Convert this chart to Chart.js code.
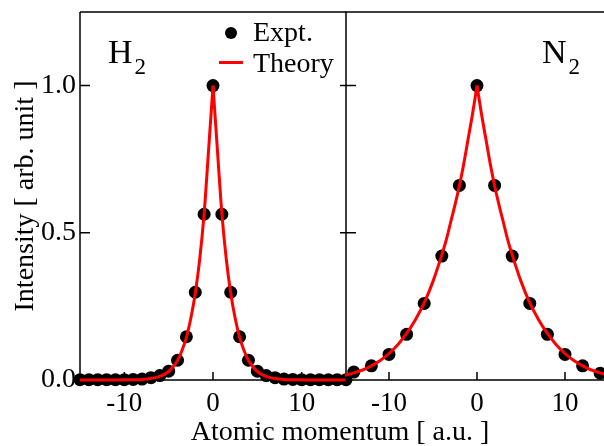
<!DOCTYPE html>
<html>
<head>
<meta charset="utf-8">
<script src="https://cdn.jsdelivr.net/npm/chart.js@4.4.1/dist/chart.umd.min.js"></script>
<style>
  html, body { margin: 0; padding: 0; background: #fff; overflow: hidden; }
  #wrap { position: relative; width: 604px; height: 446px; overflow: hidden; }
  canvas { position: absolute; top: 0; }
  #left { left: 0; }
  #right { left: 345px; }
  .lbl { position: absolute; font-family: "Liberation Serif", "Times New Roman", serif; line-height: 1; white-space: nowrap; color: #000; }
  .big { font-size: 34px; }
  .sub { font-size: 23px; position: relative; top: 11px; margin-left: 2px; }
  .leg { font-size: 28px; }
</style>
</head>
<body>
<div id="wrap">
  <canvas id="left" width="362" height="446"></canvas>
  <canvas id="right" width="264" height="446"></canvas>

  <div class="lbl big" style="left:108px; top:35px;">H<span class="sub">2</span></div>
  <div class="lbl big" style="left:542px; top:35px;">N<span class="sub">2</span></div>

  <div style="position:absolute; left:225px; top:27px; width:12px; height:12px; border-radius:50%; background:#000;"></div>
  <div class="lbl leg" style="left:253px; top:18px;">Expt.</div>
  <div style="position:absolute; left:219px; top:61px; width:24px; height:3px; background:#ff0000;"></div>
  <div class="lbl leg" style="left:253px; top:49px;">Theory</div>

  <div class="lbl leg" style="left:340px; top:417px; transform:translateX(-50%);">Atomic momentum [ a.u. ]</div>
</div>

<script>
// measured points
const expH2X = [-15, -14, -13, -12, -11, -10, -9, -8, -7, -6, -5, -4, -3, -2, -1, 0,
                1, 2, 3, 4, 5, 6, 7, 8, 9, 10, 11, 12, 13, 14, 15];
const expH2Y = [0.001, 0.001, 0.001, 0.001, 0.001, 0.001, 0.002, 0.003, 0.008, 0.015, 0.03, 0.067, 0.147, 0.298, 0.563, 1.0,
                0.563, 0.298, 0.147, 0.067, 0.03, 0.015, 0.008, 0.003, 0.002, 0.001, 0.001, 0.001, 0.001, 0.001, 0.001];

const expN2X = [-14, -12, -10, -8, -6, -4, -2, 0, 2, 4, 6, 8, 10, 12, 14];
const expN2Y = [0.027, 0.048, 0.087, 0.155, 0.26, 0.421, 0.661, 1.0, 0.661, 0.421, 0.26, 0.155, 0.087, 0.048, 0.023];

// theory curves
const theoryH2X = [-15, -14, -13, -12, -11, -10, -9, -8, -7, -6, -5, -4.5, -4, -3.5, -3, -2.5, -2, -1.5, -1, -0.5, 0,
                   0.5, 1, 1.5, 2, 2.5, 3, 3.5, 4, 4.5, 5, 6, 7, 8, 9, 10, 11, 12, 13, 14, 15];
const theoryH2Y = [0, 0, 0, 0, 0.0003, 0.0005, 0.001, 0.002, 0.005, 0.012, 0.029, 0.045, 0.066, 0.1, 0.145, 0.21, 0.295, 0.41, 0.565, 0.78, 1.0,
                   0.78, 0.565, 0.41, 0.295, 0.21, 0.145, 0.1, 0.066, 0.045, 0.029, 0.012, 0.005, 0.002, 0.001, 0.0005, 0.0003, 0, 0, 0, 0];

const theoryN2X = [-15, -14, -13, -12, -11, -10, -9, -8, -7, -6, -5, -4, -3.5, -3, -2.5, -2, -1.5, -1, -0.5, 0,
                   0.5, 1, 1.5, 2, 2.5, 3, 3.5, 4, 5, 6, 7, 8, 9, 10, 11, 12, 13, 14, 15];
const theoryN2Y = [0.016, 0.024, 0.034, 0.048, 0.066, 0.09, 0.12, 0.158, 0.205, 0.262, 0.335, 0.425, 0.475, 0.535, 0.595, 0.66, 0.735, 0.82, 0.905, 1.0,
                   0.905, 0.82, 0.735, 0.66, 0.595, 0.535, 0.475, 0.425, 0.335, 0.262, 0.205, 0.158, 0.12, 0.09, 0.066, 0.048, 0.034, 0.024, 0.016];

const xTicks = [-10, 0, 10];
const yTicks = [0, 0.5, 1.0];

const serif = "'Liberation Serif', 'Times New Roman', serif";

function pts(xs, ys, keep) {
  return xs.map((x, i) => ({ x: x, y: ys[i] })).filter(p => !keep || keep(p.x));
}

// frame + inward tick marks
const frame = {
  id: 'frame',
  beforeDatasetsDraw(chart, args, opts) {
    const { ctx, chartArea: a, scales } = chart;
    ctx.save();
    ctx.strokeStyle = '#000';
    ctx.lineWidth = 1.5;
    ctx.beginPath();
    ctx.moveTo(a.left, a.top); ctx.lineTo(a.right, a.top);
    ctx.moveTo(a.left, a.bottom); ctx.lineTo(a.right, a.bottom);
    if (opts.sides) {
      ctx.moveTo(a.left, a.top); ctx.lineTo(a.left, a.bottom);
      ctx.moveTo(a.right, a.top); ctx.lineTo(a.right, a.bottom);
      yTicks.filter(v => v > 0).forEach(v => {
        const py = scales.y.getPixelForValue(v);
        ctx.moveTo(a.left, py); ctx.lineTo(a.left + 10, py);
        ctx.moveTo(a.right - 6, py); ctx.lineTo(a.right + 10, py);
      });
    }
    xTicks.forEach(v => {
      const px = scales.x.getPixelForValue(v);
      ctx.moveTo(px, a.bottom); ctx.lineTo(px, a.bottom - 8);
    });
    ctx.stroke();
    ctx.restore();
  }
};

function theorySet(xs, ys, keep) {
  return {
    data: pts(xs, ys, keep),
    showLine: true,
    borderColor: '#ff0000',
    borderWidth: 3,
    pointRadius: 0,
    cubicInterpolationMode: 'monotone',
    clip: 4
  };
}

function makeChart(id, expX, expY, thX, thY, isLeft) {
  return new Chart(document.getElementById(id), {
    type: 'scatter',
    data: {
      datasets: [
        theorySet(thX, thY, x => x <= 0),
        theorySet(thX, thY, x => x >= 0),
        {
          data: pts(expX, expY),
          showLine: false,
          pointRadius: 6.5,
          pointBackgroundColor: '#000',
          pointBorderWidth: 0,
          clip: false
        }
      ]
    },
    options: {
      responsive: false,
      animation: false,
      layout: { autoPadding: false, padding: { top: 12, left: 0, right: isLeft ? 16 : 0, bottom: 0 } },
      plugins: { legend: { display: false }, tooltip: { enabled: false }, frame: { sides: isLeft } },
      scales: {
        x: {
          type: 'linear',
          min: -15,
          max: 15,
          afterBuildTicks: s => { s.ticks = xTicks.map(v => ({ value: v })); },
          afterFit: s => { s.height = 66; s.paddingLeft = 0; s.paddingRight = 0; },
          grid: { display: false, drawTicks: false },
          border: { display: false },
          ticks: {
            padding: 8,
            color: '#000',
            font: { family: serif, size: 27 },
            callback: v => String(v)
          }
        },
        y: {
          display: isLeft,
          min: 0,
          max: 1.25,
          afterBuildTicks: s => { s.ticks = yTicks.map(v => ({ value: v })); },
          afterFit: s => {
            s.width = isLeft ? 80 : 0;
            s.paddingTop = 0;
            s.paddingBottom = 0;
          },
          grid: { display: false, drawTicks: false },
          border: { display: false },
          ticks: {
            padding: 4,
            color: '#000',
            font: { family: serif, size: 28 },
            callback: v => v.toFixed(1)
          },
          title: {
            display: true,
            text: 'Intensity [ arb. unit ]',
            color: '#000',
            font: { family: serif, size: 28 },
            padding: { top: 9, bottom: 0 }
          }
        }
      }
    },
    plugins: [frame]
  });
}

makeChart('left', expH2X, expH2Y, theoryH2X, theoryH2Y, true);
makeChart('right', expN2X, expN2Y, theoryN2X, theoryN2Y, false);
</script>
</body>
</html>
